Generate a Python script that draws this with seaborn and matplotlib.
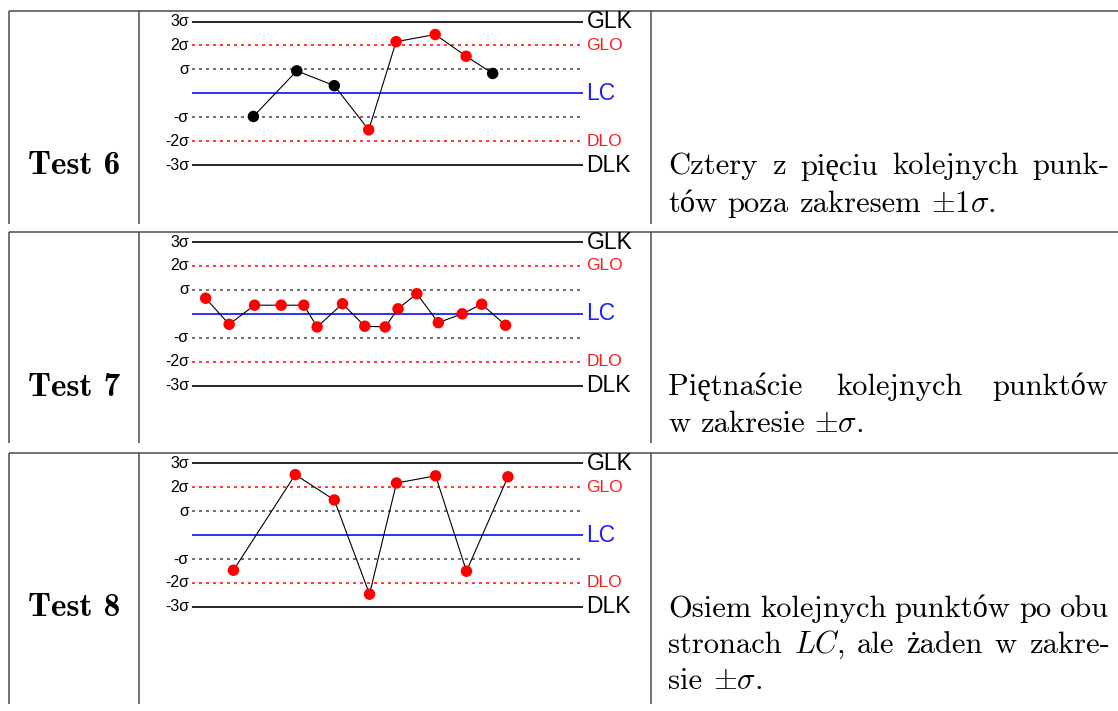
import matplotlib
matplotlib.use("Agg")
import matplotlib.pyplot as plt
import pandas as pd
import seaborn as sns

sns.set_theme(style="white")
plt.rcParams["font.family"] = ["Liberation Sans", "DejaVu Sans"]
plt.rcParams["mathtext.fontset"] = "cm"

# ---- control chart levels (sigma units) and their annotations ----
levels = [3, 2, 1, 0, -1, -2, -3]
left_labels = ["3σ", "2σ", "σ", "", "-σ", "-2σ", "-3σ"]
right_labels = ["GLK", "GLO", "", "LC", "", "DLO", "DLK"]

test_names = ["Test 6", "Test 7", "Test 8"]

# ---- Test 6: four of five points beyond 1 sigma ----
x6 = [15.7, 26.8, 36.4, 45.2, 52.2, 62.2, 70.1, 76.9]
y6 = [-0.97, 0.94, 0.32, -1.53, 2.16, 2.46, 1.55, 0.83]
flag6 = ["w", "w", "w", "poza", "poza", "poza", "poza", "w"]

# ---- Test 7: fifteen points inside +-sigma ----
x7 = [3.5, 9.5, 16.0, 22.8, 28.6, 32.0, 38.5, 44.2, 49.4, 52.7, 57.5, 63.0, 69.1, 74.1, 80.2]
y7 = [0.65, -0.44, 0.36, 0.36, 0.36, -0.55, 0.42, -0.52, -0.55, 0.21, 0.84, -0.37, 0.0, 0.40, -0.48]
flag7 = ["poza"] * 15

# ---- Test 8: eight points on both sides, none inside +-sigma ----
x8 = [10.6, 26.4, 36.4, 45.4, 52.3, 62.3, 70.2, 80.8]
y8 = [-1.47, 2.53, 1.47, -2.47, 2.18, 2.48, -1.51, 2.44]
flag8 = ["poza"] * 8

series = [(x6, y6, flag6), (x7, y7, flag7), (x8, y8, flag8)]

# ---- description column: (baseline, [(x, word), ...]) per justified line ----
descriptions = [
    [
        (174.3, [(668.3, "Cztery"), (771.6, "z"), (799.8, "pięciu"),
                 (891.8, "kolejnych"), (1032.1, "punk-")]),
        (211.7, [(668.3, "tów"), (727.7, "poza"), (799.0, "zakresem"),
                 (931.0, r"$\pm 1\sigma.$")]),
    ],
    [
        (395.0, [(668.3, "Piętnaście"), (836.0, "kolejnych"), (992.0, "punktów")]),
        (431.7, [(668.3, "w"), (700.3, "zakresie"), (814.5, r"$\pm\sigma.$")]),
    ],
    [
        (617.3, [(668.3, "Osiem"), (759.9, "kolejnych"), (894.2, "punktów"),
                 (1019.0, "po"), (1059.5, "obu")]),
        (653.3, [(668.3, "stronach"), (794.2, r"$LC$,"), (857.1, "ale"),
                 (906.3, "żaden"), (994.6, "w"), (1028.6, "zakre-")]),
        (689.3, [(668.3, "sie"), (712.6, r"$\pm\sigma.$")]),
    ],
]

# ---- layout (pixels) ----
W, H = 1118, 711
row_tops = [11.0, 232.3, 452.7]
row_bottoms = [223.5, 443.0, 704.0]
col_x = [9.3, 138.7, 650.7]
chart_centers = [93.3, 313.8, 535.1]
sig_px = 23.9
x_left_px, x_right_px = 192.0, 583.0

serif = ["cmr10", "Liberation Serif"]
rule_color = "#4a4a4a"

fig = plt.figure(figsize=(W / 100, H / 100), dpi=100)
bg = fig.add_axes([0, 0, 1, 1])
bg.set_xlim(0, W)
bg.set_ylim(H, 0)
bg.axis("off")

for r in range(3):
    top, bot = row_tops[r], row_bottoms[r]
    bg.plot([col_x[0], W], [top, top], color=rule_color, lw=1.1, solid_capstyle="butt")
    for cx in col_x:
        bg.plot([cx, cx], [top, bot], color=rule_color, lw=1.1, solid_capstyle="butt")
    bg.text(74.0, top + 163.3, test_names[r], ha="center", va="baseline",
            family="cmb10", fontsize=24, color="black")
    for baseline, words in descriptions[r]:
        for wx, word in words:
            bg.text(wx, baseline, word, ha="left", va="baseline",
                    family=serif, fontsize=22, color="black")

line_styles = {
    3: dict(color="black", lw=1.2, ls="-"),
    -3: dict(color="black", lw=1.2, ls="-"),
    2: dict(color="#ff1a1a", lw=1.2, ls=(0, (1.8, 2.4))),
    -2: dict(color="#ff1a1a", lw=1.2, ls=(0, (1.8, 2.4))),
    1: dict(color="#555555", lw=1.2, ls=(0, (1.8, 2.4))),
    -1: dict(color="#555555", lw=1.2, ls=(0, (1.8, 2.4))),
    0: dict(color="#1f1fff", lw=1.3, ls="-"),
}
right_style = {
    "GLK": dict(color="black", fontsize=16.5),
    "DLK": dict(color="black", fontsize=16.5),
    "LC": dict(color="#1f1fff", fontsize=16.5),
    "GLO": dict(color="#ff1a1a", fontsize=12.5),
    "DLO": dict(color="#ff1a1a", fontsize=12.5),
}

ylo, yhi = -3.6, 3.6
for r, (xs, ys, flags) in enumerate(series):
    c = chart_centers[r]
    top_px = c - yhi * sig_px
    bot_px = c - ylo * sig_px
    ax = fig.add_axes([x_left_px / W, 1 - bot_px / H,
                       (x_right_px - x_left_px) / W, (bot_px - top_px) / H])

    for lev, ll, rl in zip(levels, left_labels, right_labels):
        st = line_styles[lev]
        xmax = 0.992 if abs(lev) == 1 else 1.0
        ax.axhline(lev, xmin=0, xmax=xmax, color=st["color"], lw=st["lw"],
                   ls=st["ls"], zorder=1)
        if ll:
            ax.text(-0.8, lev, ll, ha="right", va="center", fontsize=11.5,
                    color="black", clip_on=False)
        if rl:
            ax.text(100.9, lev, rl, ha="left", va="center", clip_on=False,
                    **right_style[rl])

    df = pd.DataFrame({"x": xs, "y": ys, "status": flags})
    sns.lineplot(data=df, x="x", y="y", sort=False, estimator=None,
                 color="black", lw=0.8, ax=ax, zorder=2)
    sns.scatterplot(data=df, x="x", y="y", hue="status",
                    palette={"poza": "#ff0000", "w": "#000000"},
                    s=68, linewidth=0, legend=False, ax=ax, zorder=3)
    ax.set_xlim(0, 100)
    ax.set_ylim(ylo, yhi)
    ax.axis("off")

fig.savefig("out.png", dpi=100)
